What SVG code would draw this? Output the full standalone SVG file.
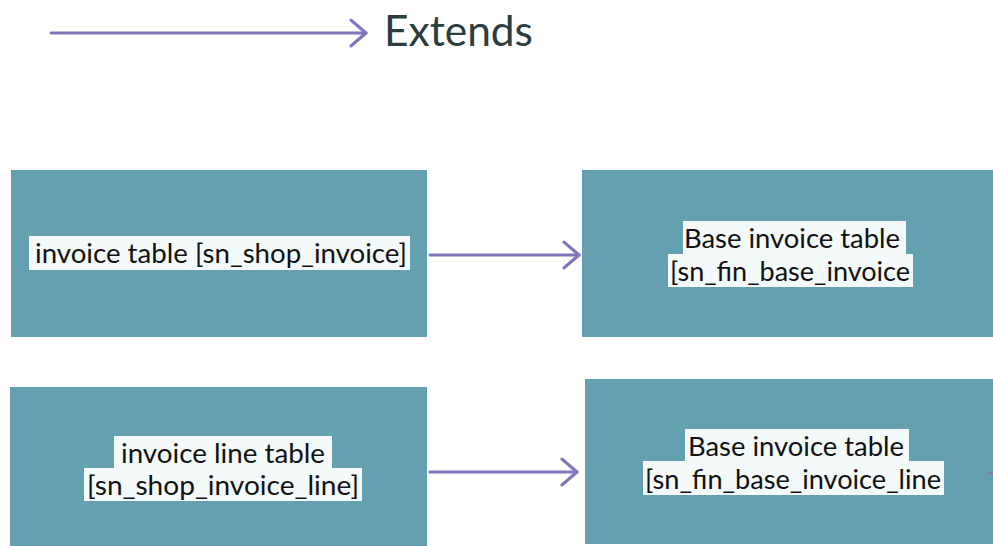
<svg xmlns="http://www.w3.org/2000/svg" width="993" height="546" viewBox="0 0 993 546">
<style>
.box{fill:#64a0b0;}
.lbl{fill:#f4f9fa;}
.t{font-family:Lato,"Liberation Sans",sans-serif;font-size:27.5px;fill:#111;text-anchor:middle;}
.conn{stroke:#7d76bd;stroke-width:3;fill:none;stroke-linecap:round;}
</style>
<defs>
<marker id="chev" markerUnits="userSpaceOnUse" markerWidth="30" markerHeight="30" refX="0" refY="0" viewBox="-16 -14 20 28" orient="auto" overflow="visible">
<path d="M-14,-12 L0,0 L-14,12" fill="none" stroke="#7d76bd" stroke-width="3" stroke-linecap="round" stroke-linejoin="round"/>
</marker>
</defs>
<rect width="993" height="546" fill="#ffffff"/>
<g id="legend">
<line class="conn" x1="51" y1="33" x2="366" y2="33" marker-end="url(#chev)"/>
<text x="384" y="46" font-family="Lato,'Liberation Sans',sans-serif" font-size="42" fill="#2c3d3e" textLength="149" lengthAdjust="spacingAndGlyphs">Extends</text>
</g>
<g id="node-shop-invoice">
<rect class="box" x="11" y="170" width="416" height="167"/>
<rect class="lbl" x="29" y="236" width="381" height="34"/>
<text class="t" x="221" y="263" textLength="372" lengthAdjust="spacingAndGlyphs">invoice table [sn_shop_invoice]</text>
</g>
<g id="node-fin-base-invoice">
<rect class="box" x="582" y="170" width="411" height="167"/>
<rect class="lbl" x="683" y="221" width="223" height="34"/>
<rect class="lbl" x="668" y="254" width="245" height="33"/>
<text class="t" x="792" y="248" textLength="216" lengthAdjust="spacingAndGlyphs">Base invoice table</text>
<text class="t" x="790" y="281" textLength="240" lengthAdjust="spacingAndGlyphs">[sn_fin_base_invoice</text>
</g>
<g id="node-shop-invoice-line">
<rect class="box" x="10" y="387" width="417" height="159"/>
<rect class="lbl" x="114" y="436" width="218" height="33"/>
<rect class="lbl" x="84" y="468" width="278" height="33"/>
<text class="t" x="223" y="463" textLength="204" lengthAdjust="spacingAndGlyphs">invoice line table</text>
<text class="t" x="223" y="495" textLength="272" lengthAdjust="spacingAndGlyphs">[sn_shop_invoice_line]</text>
</g>
<g id="node-fin-base-invoice-line">
<rect class="box" x="585" y="379" width="408" height="165"/>
<rect class="lbl" x="685" y="429" width="224" height="33"/>
<rect class="lbl" x="643" y="461" width="301" height="34"/>
<text class="t" x="796" y="456" textLength="216" lengthAdjust="spacingAndGlyphs">Base invoice table</text>
<text class="t" x="793" y="489" textLength="296" lengthAdjust="spacingAndGlyphs">[sn_fin_base_invoice_line</text>
</g>
<g id="connectors">
<line class="conn" x1="430" y1="255" x2="579" y2="255" marker-end="url(#chev)"/>
<line class="conn" x1="430" y1="472" x2="577" y2="472" marker-end="url(#chev)"/>
<line class="conn" x1="990" y1="473" x2="996" y2="473"/>
</g>
</svg>
